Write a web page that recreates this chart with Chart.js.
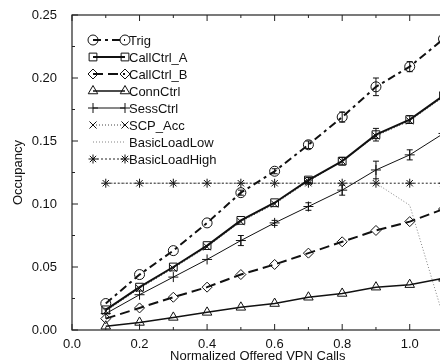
<!DOCTYPE html>
<html lang="en">
<head>
    <meta charset="UTF-8">
    <title>Occupancy vs Offered VPN Calls</title>
    <script src="https://cdn.jsdelivr.net/npm/chart.js"></script>
    <style>
        body { margin: 0; overflow: hidden; background: #fff; }
    </style>
</head>
<body>
    <canvas id="occChart" width="450" height="364"></canvas>

    <script>
        // values
        const xValues      = [0.1, 0.2, 0.3, 0.4, 0.5, 0.6, 0.7, 0.8, 0.9, 1.0, 1.1];
        const trig         = [0.021, 0.044, 0.063, 0.085, 0.109, 0.126, 0.147, 0.169, 0.193, 0.209, 0.231];
        const callCtrlA    = [0.016, 0.034, 0.050, 0.067, 0.087, 0.101, 0.119, 0.134, 0.155, 0.167, 0.186];
        const callCtrlB    = [0.009, 0.0175, 0.026, 0.034, 0.044, 0.052, 0.061, 0.070, 0.079, 0.086, 0.096];
        const connCtrl     = [0.003, 0.006, 0.010, 0.014, 0.018, 0.021, 0.026, 0.029, 0.034, 0.036, 0.041];
        const sessCtrl     = [0.013, 0.028, 0.042, 0.056, 0.071, 0.085, 0.098, 0.111, 0.127, 0.139, 0.156];
        const scpAcc       = [0.015, 0.033, 0.049, 0.066, 0.086, 0.100, 0.118, 0.134, 0.154, 0.166, 0.185];
        const basicLoadLow = [0.1165, 0.1165, 0.1165, 0.1165, 0.1165, 0.1165, 0.1165, 0.1165, 0.1165, 0.099, 0.010];
        const basicLoadHigh = [0.1165, 0.1165, 0.1165, 0.1165, 0.1165, 0.1165, 0.1165, 0.1165, 0.1165, 0.1165, 0.1165];

        // half-widths of the error bars
        const trigErr  = [0, 0, 0, 0, 0.002, 0.002, 0.003, 0.004, 0.007, 0.004, 0];
        const callAErr = [0, 0, 0, 0, 0, 0, 0.002, 0.003, 0.005, 0.003, 0];
        const sessErr  = [0, 0, 0, 0, 0.004, 0.002, 0.003, 0.004, 0.007, 0.004, 0];

        const xTickLabels = [0, 0.2, 0.4, 0.6, 0.8, 1.0];

        const pts = ys => xValues.map((x, i) => ({ x: x, y: ys[i] }));

        function series(label, ys, pointStyle, radius, width, dash, color, errs) {
            return {
                label: label,
                data: pts(ys),
                errors: errs,
                borderColor: color,
                borderWidth: width,
                borderDash: dash,
                pointStyle: pointStyle,
                pointRadius: radius,
                pointBorderColor: '#111',
                pointBackgroundColor: 'rgba(0,0,0,0)',
                pointBorderWidth: 1,
                tension: 0
            };
        }

        const datasets = [
            series('Trig', trig, 'circle', 5, 2, [8, 4, 3, 4], '#111', trigErr),
            series('CallCtrl_A', callCtrlA, 'rect', 5.5, 2, [], '#111', callAErr),
            series('CallCtrl_B', callCtrlB, 'rectRot', 5, 2, [10, 5], '#111'),
            series('ConnCtrl', connCtrl, 'triangle', 5.5, 1.5, [], '#111'),
            series('SessCtrl', sessCtrl, 'cross', 5, 1, [], '#111', sessErr),
            series('SCP_Acc', scpAcc, 'crossRot', 5, 1, [1, 2], '#444'),
            series('BasicLoadLow', basicLoadLow, 'circle', 0, 0.8, [1, 2], '#666'),
            series('BasicLoadHigh', basicLoadHigh, 'star', 4.5, 1, [2, 2], '#222')
        ];

        // error bars, frame with inward ticks, and the legend inside the plot
        const extras = {
            id: 'extras',
            afterDatasetsDraw(chart) {
                const ctx = chart.ctx;
                const a = chart.chartArea;
                const xs = chart.scales.x, ys = chart.scales.y;
                ctx.save();

                // error bars
                ctx.strokeStyle = '#111';
                ctx.lineWidth = 1;
                chart.data.datasets.forEach(ds => {
                    if (!ds.errors) return;
                    ds.data.forEach((p, i) => {
                        const e = ds.errors[i];
                        if (!e) return;
                        const px = xs.getPixelForValue(p.x);
                        const y1 = ys.getPixelForValue(p.y - e), y2 = ys.getPixelForValue(p.y + e);
                        ctx.beginPath();
                        ctx.moveTo(px, y1); ctx.lineTo(px, y2);
                        ctx.moveTo(px - 3, y1); ctx.lineTo(px + 3, y1);
                        ctx.moveTo(px - 3, y2); ctx.lineTo(px + 3, y2);
                        ctx.stroke();
                    });
                });

                // frame
                ctx.strokeStyle = '#222';
                ctx.lineWidth = 1.2;
                ctx.strokeRect(a.left, a.top, a.right - a.left, a.bottom - a.top);

                // inward ticks
                ctx.lineWidth = 1;
                ctx.beginPath();
                for (let i = 0; i <= 11; i++) {
                    const px = xs.getPixelForValue(i / 10);
                    const len = i % 2 === 0 ? 6 : 3;
                    ctx.moveTo(px, a.bottom); ctx.lineTo(px, a.bottom - len);
                    ctx.moveTo(px, a.top); ctx.lineTo(px, a.top + len);
                }
                for (let i = 0; i <= 10; i++) {
                    const py = ys.getPixelForValue(i * 0.025);
                    const len = i % 2 === 0 ? 6 : 3;
                    ctx.moveTo(a.left, py); ctx.lineTo(a.left + len, py);
                }
                ctx.stroke();

                // legend
                const x0 = 93, x1 = 125, top = 40, step = 17;
                ctx.font = '13px "Liberation Sans", Arial, sans-serif';
                ctx.textBaseline = 'middle';
                chart.data.datasets.forEach((ds, i) => {
                    const y = top + i * step;
                    ctx.strokeStyle = ds.borderColor;
                    ctx.lineWidth = ds.borderWidth;
                    ctx.setLineDash(ds.borderDash);
                    ctx.beginPath();
                    ctx.moveTo(x0, y); ctx.lineTo(x1, y);
                    ctx.stroke();
                    ctx.setLineDash([]);
                    if (ds.pointRadius > 0) {
                        ctx.strokeStyle = '#111';
                        ctx.fillStyle = 'rgba(0,0,0,0)';
                        ctx.lineWidth = 1;
                        const opts = { pointStyle: ds.pointStyle, radius: ds.pointRadius, borderWidth: 1, rotation: 0 };
                        Chart.helpers.drawPoint(ctx, opts, x0, y);
                        Chart.helpers.drawPoint(ctx, opts, x1, y);
                    }
                    ctx.fillStyle = '#111';
                    ctx.fillText(ds.label, x1 + 4, y + 1);
                });
                ctx.restore();
            }
        };

        const font = { family: '"Liberation Sans", Arial, sans-serif', size: 13 };

        new Chart(document.getElementById('occChart').getContext('2d'), {
            type: 'line',
            data: { datasets: datasets },
            options: {
                responsive: false,
                animation: false,
                layout: { padding: { top: 15, right: 5, left: 0, bottom: 0 } },
                plugins: { legend: { display: false }, tooltip: { enabled: false } },
                scales: {
                    x: {
                        type: 'linear',
                        min: 0,
                        max: 1.1,
                        afterBuildTicks: scale => {
                            scale.ticks = xTickLabels.map(v => ({ value: v }));
                        },
                        afterFit: scale => {
                            scale.height = 34;
                            scale.paddingLeft = 0;
                            scale.paddingRight = 0;
                        },
                        grid: { display: false, drawTicks: false },
                        border: { display: false },
                        ticks: { color: '#111', font: font, padding: 7, maxRotation: 0,
                                 callback: v => v.toFixed(1) },
                        title: { display: true, text: 'Normalized Offered VPN Calls', color: '#111',
                                 font: font, padding: { top: 0, bottom: 0 } }
                    },
                    y: {
                        min: 0,
                        max: 0.25,
                        afterFit: scale => {
                            scale.width = 72;
                            scale.paddingTop = 0;
                            scale.paddingBottom = 0;
                        },
                        grid: { display: false, drawTicks: false },
                        border: { display: false },
                        ticks: { stepSize: 0.05, color: '#111', font: font, padding: 15,
                                 callback: v => v.toFixed(2) },
                        title: { display: true, text: 'Occupancy', color: '#111',
                                 font: font, padding: { top: 11, bottom: 0 } }
                    }
                }
            },
            plugins: [extras]
        });
    </script>
</body>
</html>
